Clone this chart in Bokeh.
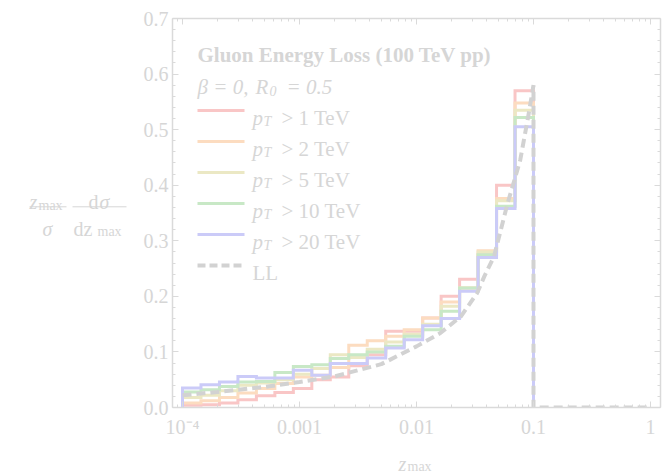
import numpy as np
from bokeh.plotting import figure
from bokeh.layouts import row, column
from bokeh.models import (Range1d, LinearAxis, LogAxis, FixedTicker,
                          CustomJSTickFormatter, PrintfTickFormatter, Label, Arrow)
from bokeh.embed import file_html
from bokeh.resources import INLINE

# ---- data -------------------------------------------------------------
# 19 log-uniform z_max bins between 1e-4 and 0.1
bin_lo, bin_hi, n_bins = 1e-4, 0.1, 19
edges = np.logspace(np.log10(bin_lo), np.log10(bin_hi), n_bins + 1)

series_names = ["1", "2", "5", "10", "20"]          # pT thresholds in TeV
hist_pt1 = [0.004, 0.005, 0.008, 0.014, 0.021, 0.027, 0.034, 0.050, 0.055, 0.075,
            0.095, 0.137, 0.137, 0.161, 0.200, 0.231, 0.275, 0.400, 0.570]
hist_pt2 = [0.008, 0.012, 0.018, 0.026, 0.034, 0.043, 0.055, 0.058, 0.072, 0.112,
            0.120, 0.128, 0.140, 0.161, 0.190, 0.215, 0.282, 0.376, 0.548]
hist_pt5 = [0.018, 0.022, 0.030, 0.040, 0.044, 0.050, 0.060, 0.070, 0.095, 0.090,
            0.105, 0.118, 0.132, 0.150, 0.182, 0.215, 0.280, 0.372, 0.535]
hist_pt10 = [0.028, 0.032, 0.038, 0.046, 0.047, 0.063, 0.074, 0.077, 0.088, 0.095,
             0.100, 0.110, 0.128, 0.140, 0.173, 0.215, 0.275, 0.362, 0.522]
hist_pt20 = [0.035, 0.041, 0.046, 0.056, 0.053, 0.053, 0.067, 0.058, 0.079, 0.079,
             0.089, 0.107, 0.122, 0.147, 0.160, 0.209, 0.270, 0.358, 0.505]

# leading-log curve
ll_z = [1e-4, 2e-4, 5e-4, 1e-3, 2e-3, 5e-3, 0.01, 0.016, 0.024, 0.033, 0.038,
        0.046, 0.06, 0.077, 0.09, 0.1]
ll_val = [0.022, 0.028, 0.037, 0.046, 0.056, 0.078, 0.110, 0.134, 0.164, 0.206,
          0.236, 0.272, 0.367, 0.445, 0.523, 0.580]
ll_tail_z = [0.1, 1.0]          # distribution vanishes above z_max = 0.1

x_ticks = [1e-4, 1e-3, 1e-2, 1e-1, 1.0]
x_tick_labels = ["10\u207b\u2074", "0.001", "0.01", "0.1", "1"]
y_ticks = [0.0, 0.1, 0.2, 0.3, 0.4, 0.5, 0.6, 0.7]

# ---- style ------------------------------------------------------------
FONT = "Liberation Serif"
TEXT = "#d6d6d6"
AXIS = "#dadada"
colors = ["#f9c6c6", "#fcdcc0", "#ebe8c4", "#c8e8c6", "#cbcbf8"]
LL_COLOR = "#d2d2d2"

W, H = 662, 472
LEFT_W = 140          # strip holding the y-axis caption
MAIN_H = 440          # main plot height; the x caption sits below it
FL, FB = 172, 408     # frame left / bottom in page pixels

p = figure(width=W - LEFT_W, height=MAIN_H, x_axis_type="log",
           x_range=Range1d(10 ** -4.0855, 10 ** 0.0855), y_range=Range1d(0, 0.7),
           output_backend="svg", toolbar_location=None, title=None,
           min_border_left=FL - LEFT_W, min_border_right=2, min_border_top=18,
           min_border_bottom=MAIN_H - FB)
p.outline_line_color = None
p.xgrid.visible = False
p.ygrid.visible = False
p.background_fill_color = "white"
p.border_fill_color = "white"

minor_x = [m * 10.0 ** d for d in range(-5, 1) for m in range(2, 10)]
xticker = FixedTicker(ticks=x_ticks, minor_ticks=minor_x)
minor_y = [round(0.02 * k, 2) for k in range(36)]
yticker = FixedTicker(ticks=y_ticks, minor_ticks=minor_y)
xfmt = CustomJSTickFormatter(args=dict(tick_vals=x_ticks, tick_texts=x_tick_labels), code="""
    for (let i = 0; i < tick_vals.length; i++) {
        if (Math.abs(Math.log10(tick_vals[i]) - Math.log10(tick)) < 1e-6) return tick_texts[i];
    }
    return "";
""")
blank_fmt = CustomJSTickFormatter(code='return "";')


def style_axis(ax, show_labels):
    ax.axis_line_color = AXIS
    ax.axis_line_width = 1.5
    ax.major_tick_line_color = AXIS
    ax.minor_tick_line_color = AXIS
    ax.major_tick_in = 6
    ax.major_tick_out = 0
    ax.minor_tick_in = 3
    ax.minor_tick_out = 0
    ax.major_label_text_font = FONT
    ax.major_label_text_color = TEXT
    if show_labels:
        ax.major_label_text_font_size = "20px"
    else:
        ax.formatter = blank_fmt
        ax.major_label_text_font_size = "6px"
        ax.major_label_standoff = 0


xa = p.xaxis[0]
xa.ticker = xticker
xa.formatter = xfmt
style_axis(xa, True)
xa.major_label_standoff = 8

ya = p.yaxis[0]
ya.ticker = yticker
ya.formatter = PrintfTickFormatter(format="%.1f")
style_axis(ya, True)
ya.major_label_standoff = 4

top = LogAxis(ticker=xticker)
style_axis(top, False)
p.add_layout(top, "above")
right = LinearAxis(ticker=yticker)
style_axis(right, False)
p.add_layout(right, "right")


def outline(vals):
    xs, ys = [edges[0]], [0.0]
    for i, v in enumerate(vals):
        xs += [edges[i], edges[i + 1]]
        ys += [v, v]
    xs.append(edges[-1])
    ys.append(0.0)
    return xs, ys


for vals, c in zip([hist_pt1, hist_pt2, hist_pt5, hist_pt10, hist_pt20], colors):
    xs, ys = outline(vals)
    p.line(xs, ys, line_color=c, line_width=3, line_join="miter")

p.line(ll_z + ll_tail_z, ll_val + [0.0, 0.0], line_color=LL_COLOR, line_width=4,
       line_dash="9 5")


# ---- helpers for text placed in page pixels ---------------------------
def put(fig, ox, oy, text, X, Y, size=20, style="normal", units="screen"):
    if units == "screen":
        x, y = X - ox, oy - Y
    else:   # caption strips use data ranges laid out in page pixels
        x, y = X - ox, Y - oy
    fig.add_layout(Label(x=x, y=y, x_units=units, y_units=units, text=text,
                         text_font=FONT, text_font_size=f"{size}px", text_font_style=style,
                         text_color=TEXT, text_align="left", text_baseline="alphabetic"))


def seg(fig, ox, oy, X0, X1, Y, color, width=1.5, dash="solid", units="screen"):
    if units == "screen":
        ys = oy - Y
    else:
        ys = Y - oy
    fig.add_layout(Arrow(end=None, x_start=X0 - ox, y_start=ys, x_end=X1 - ox,
                         y_end=ys, start_units=units, end_units=units,
                         line_color=color, line_width=width, line_dash=dash))


def caption_strip(w, h):
    # ranges in pixels with y pointing down, so captions are placed in page terms
    f = figure(width=w, height=h, x_range=Range1d(0, w), y_range=Range1d(h, 0),
               output_backend="svg", toolbar_location=None, title=None,
               x_axis_location=None, y_axis_location=None,
               min_border_left=0, min_border_right=0, min_border_top=0, min_border_bottom=0)
    f.outline_line_color = None
    f.xgrid.visible = False
    f.ygrid.visible = False
    f.background_fill_color = "white"
    f.border_fill_color = "white"
    return f


# legend inside the frame
put(p, FL, FB, "Gluon Energy Loss (100 TeV pp)", 197, 55, size=21, style="bold")
put(p, FL, FB, "\u03b2 = 0,", 197, 87, size=21, style="italic")
put(p, FL, FB, "R", 255, 87, size=21, style="italic")
put(p, FL, FB, "0", 269, 91, size=14, style="italic")
put(p, FL, FB, "= 0.5", 286, 87, size=21, style="italic")

row_y = [111, 142, 173, 204, 235]
for name, c, y in zip(series_names, colors, row_y):
    seg(p, FL, FB, 197, 244, y, c, width=3)
    put(p, FL, FB, "p", 252, y + 7, size=21, style="italic")
    put(p, FL, FB, "T", 263, y + 11, size=14, style="italic")
    put(p, FL, FB, f"> {name} TeV", 281, y + 7, size=21)
seg(p, FL, FB, 197, 244, 266, LL_COLOR, width=4, dash="8 4")
put(p, FL, FB, "LL", 252, 273, size=21)

# y-axis caption: (z_max / sigma) (d sigma / d z_max)
ycap = caption_strip(LEFT_W, MAIN_H)
kw = dict(units="data")
put(ycap, 0, 0, "z", 29, 208, style="italic", **kw)
put(ycap, 0, 0, "max", 38, 211, size=14, **kw)
seg(ycap, 0, 0, 29, 66, 213, TEXT, width=1, **kw)
put(ycap, 0, 0, "\u03c3", 42, 238, style="italic", **kw)
put(ycap, 0, 0, "d", 88, 208, **kw)
put(ycap, 0, 0, "\u03c3", 99, 208, style="italic", **kw)
seg(ycap, 0, 0, 72, 126, 213, TEXT, width=1, **kw)
put(ycap, 0, 0, "dz", 73, 238, **kw)
put(ycap, 0, 0, "max", 97, 241, size=14, **kw)

# x-axis caption
xcap = caption_strip(W, H - MAIN_H)
put(xcap, 0, MAIN_H, "z", 398, 463, style="italic", **kw)
put(xcap, 0, MAIN_H, "max", 407, 466, size=14, **kw)

layout = column(row(ycap, p, spacing=0), xcap, spacing=0)
open("out.html", "w").write(file_html(layout, INLINE))
